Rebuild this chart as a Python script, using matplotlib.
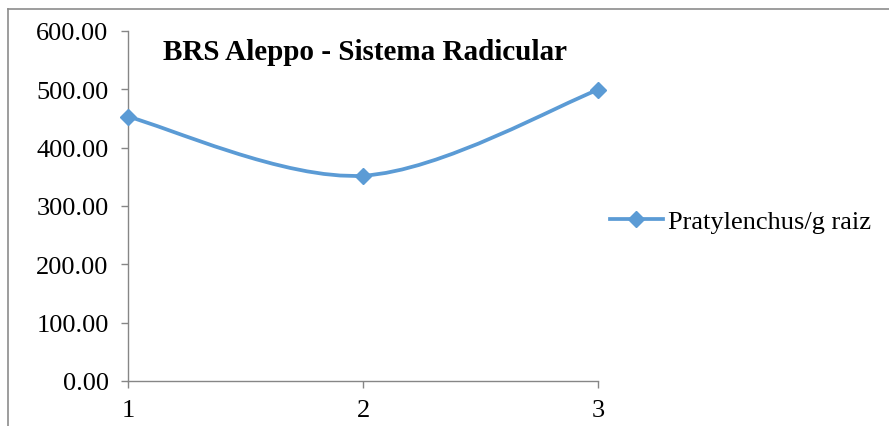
import matplotlib.pyplot as plt
import numpy as np
from matplotlib.path import Path
from matplotlib.patches import PathPatch
from matplotlib.lines import Line2D

# Nematode counts per gram of root for the three samples
samples = [1, 2, 3]
pratylenchus = [453.0, 352.0, 499.0]
series_label = 'Pratylenchus/g raiz'
chart_title = 'BRS Aleppo - Sistema Radicular'
y_ticks = [0, 100, 200, 300, 400, 500, 600]

line_color = '#5B9BD5'
axis_color = '#868686'

plt.rcParams['font.family'] = ['Liberation Serif', 'DejaVu Serif']


def smooth_path(x, y):
    # Bezier curve through the points, same kind of smoothing as a spreadsheet "smoothed line"
    pts = np.column_stack([x, y]).astype(float)
    ext = np.vstack([pts[0], pts, pts[-1]])
    verts = [pts[0]]
    codes = [Path.MOVETO]
    for i in range(len(pts) - 1):
        p0, p1, p2, p3 = ext[i], ext[i + 1], ext[i + 2], ext[i + 3]
        c1 = p1 + (p2 - p0) / 6.0
        c2 = p2 - (p3 - p1) / 6.0
        verts += [c1, c2, p2]
        codes += [Path.CURVE4] * 3
    return Path(verts, codes)


fig = plt.figure(figsize=(8.89, 4.27), dpi=100)
ax = fig.add_axes([128 / 889, 45 / 427, 470 / 889, 350 / 427])

patch = PathPatch(smooth_path(samples, pratylenchus), facecolor='none',
                  edgecolor=line_color, linewidth=2.7, capstyle='round', clip_on=False)
ax.add_patch(patch)
ax.plot(samples, pratylenchus, linestyle='none', marker='D', markersize=8.5,
        color=line_color, clip_on=False, zorder=3)

ax.set_xlim(1, 3)
ax.set_ylim(0, 600)
ax.set_xticks(samples)
ax.set_xticklabels([str(s) for s in samples])
ax.set_yticks(y_ticks)
ax.set_yticklabels([f'{v:.2f}' for v in y_ticks])

for side in ['top', 'right']:
    ax.spines[side].set_visible(False)
for side in ['left', 'bottom']:
    ax.spines[side].set_color(axis_color)
    ax.spines[side].set_linewidth(1.0)
ax.tick_params(axis='both', colors=axis_color, labelcolor='black', labelsize=19,
               length=5, width=1.0, direction='out')
ax.tick_params(axis='y', pad=9)
ax.tick_params(axis='x', pad=8)

fig.text(163 / 889, 1 - 52 / 427, chart_title, fontsize=21, fontweight='bold',
         ha='left', va='center')

handle = Line2D([], [], color=line_color, linewidth=2.7, marker='D', markersize=8.5)
fig.legend([handle], [series_label], loc='center left',
           bbox_to_anchor=(610 / 889, 1 - 222 / 427), frameon=False, fontsize=19,
           handlelength=2.0, handletextpad=0.2, borderpad=0, borderaxespad=0)

# outer chart frame (only the top and left edges fall inside the image)
fig.add_artist(Line2D([8 / 889, 8 / 889], [0, 1 - 10 / 427], color='#8c8c8c',
                      linewidth=1.2, transform=fig.transFigure))
fig.add_artist(Line2D([8 / 889, 1], [1 - 10 / 427, 1 - 10 / 427], color='#8c8c8c',
                      linewidth=1.2, transform=fig.transFigure))

fig.savefig('out.png', dpi=100)
